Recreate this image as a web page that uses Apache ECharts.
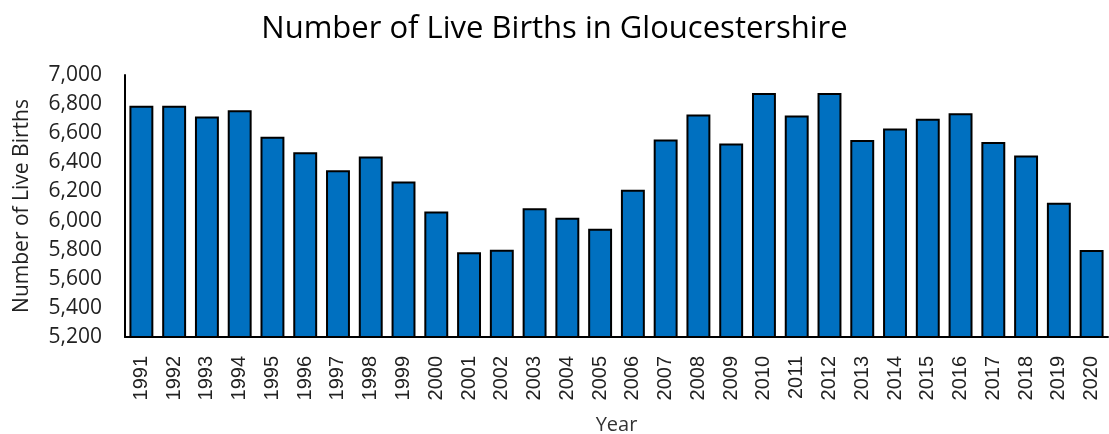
<!DOCTYPE html>
<html>
<head>
<meta charset="utf-8">
<script src="https://cdn.jsdelivr.net/npm/echarts@6/dist/echarts.min.js"></script>
<style>
  html, body { margin: 0; padding: 0; background: #fff; }
  #main { width: 1109px; height: 434px; }
</style>
</head>
<body>
<div id="main"></div>
<script>
// years on the x axis
var years = ['1991', '1992', '1993', '1994', '1995', '1996', '1997', '1998', '1999', '2000',
  '2001', '2002', '2003', '2004', '2005', '2006', '2007', '2008', '2009', '2010',
  '2011', '2012', '2013', '2014', '2015', '2016', '2017', '2018', '2019', '2020'];

// live births per year
var births = [6788, 6788, 6715, 6758, 6576, 6470, 6346, 6440, 6269, 6063,
  5783, 5799, 6085, 6019, 5944, 6212, 6557, 6729, 6530, 6877,
  6722, 6877, 6553, 6633, 6699, 6738, 6539, 6447, 6122, 5798];

var yMin = 5200, yMax = 7000, yStep = 200;

var myChart = echarts.init(document.getElementById('main'));

var option = {
  animation: false,
  title: {
    text: 'Number of Live Births in Gloucestershire',
    left: 'center',
    top: 9,
    textStyle: {
      fontFamily: 'Open Sans',
      fontSize: 31,
      fontWeight: 'normal',
      color: '#000'
    }
  },
  grid: {
    left: 125,
    right: 1,
    top: 75,
    bottom: 97,
    outerBoundsMode: 'none'
  },
  xAxis: {
    type: 'category',
    data: years,
    name: 'Year',
    nameLocation: 'middle',
    nameGap: 78,
    nameTextStyle: { fontFamily: 'Open Sans', fontSize: 20, color: '#333' },
    axisLine: { lineStyle: { color: '#000', width: 2 } },
    axisTick: { show: false },
    axisLabel: {
      rotate: 90,
      margin: 19,
      fontFamily: 'Liberation Sans',
      fontSize: 20,
      color: '#222'
    }
  },
  yAxis: {
    type: 'value',
    min: yMin,
    max: yMax,
    interval: yStep,
    name: 'Number of Live Births',
    nameLocation: 'middle',
    nameGap: 92,
    nameTextStyle: { fontFamily: 'Open Sans', fontSize: 21, color: '#222' },
    splitLine: { show: false },
    axisTick: { show: false },
    axisLine: { show: true, lineStyle: { color: '#000', width: 2 } },
    axisLabel: {
      margin: 23,
      fontFamily: 'Open Sans',
      fontSize: 21,
      color: '#222',
      formatter: function (v) { return v.toLocaleString('en-US'); }
    }
  },
  series: [{
    type: 'bar',
    data: births,
    barWidth: '73%',
    itemStyle: {
      color: '#0070C0',
      borderColor: '#000',
      borderWidth: 2
    }
  }]
};

myChart.setOption(option);
</script>
</body>
</html>
